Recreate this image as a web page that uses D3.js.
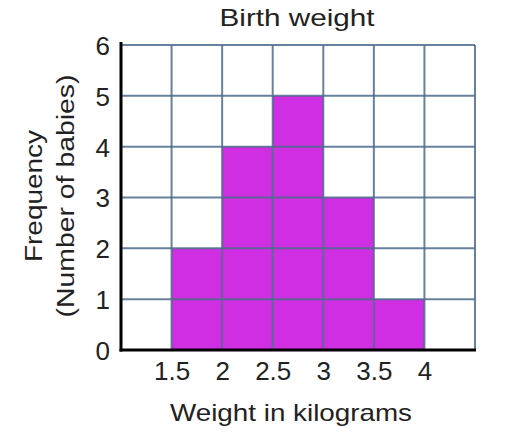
<!DOCTYPE html>
<html>
<head>
<meta charset="utf-8">
<script src="https://cdn.jsdelivr.net/npm/d3@7"></script>
<style>
  body { margin: 0; background: #fff; }
  text { font-family: "Liberation Sans", Arial, sans-serif; fill: #222; }
</style>
</head>
<body>
<svg id="drawing_region"></svg>
<script>
// histogram bins (lower edge, upper edge) and counts
const binStart = [1.5, 2, 2.5, 3, 3.5];
const binEnd = [2, 2.5, 3, 3.5, 4];
const counts = [2, 4, 5, 3, 1];

const xTicks = [1.5, 2, 2.5, 3, 3.5, 4];
const yTicks = [0, 1, 2, 3, 4, 5, 6];
const xGrid = [1, 1.5, 2, 2.5, 3, 3.5, 4, 4.5];

const title = "Birth weight";
const xTitle = "Weight in kilograms";
const yTitle1 = "Frequency";
const yTitle2 = "(Number of babies)";

const width = 524, height = 442;
const margin = {top: 45, right: 49, bottom: 92, left: 121};

const svg = d3.select('#drawing_region')
    .attr('width', width)
    .attr('height', height);

const xscale = d3.scaleLinear()
    .domain([1, 4.5])
    .range([margin.left, width - margin.right]);

const yscale = d3.scaleLinear()
    .domain([0, 6])
    .range([height - margin.bottom, margin.top]);

// bars
svg.selectAll('rect.bar')
    .data(counts)
    .enter()
    .append('rect')
    .attr('class', 'bar')
    .attr('x', (d, i) => xscale(binStart[i]))
    .attr('width', (d, i) => xscale(binEnd[i]) - xscale(binStart[i]))
    .attr('y', d => yscale(d))
    .attr('height', d => yscale(0) - yscale(d))
    .attr('fill', '#d02ee2');

// grid
svg.selectAll('line.vgrid')
    .data(xGrid)
    .enter()
    .append('line')
    .attr('x1', d => xscale(d))
    .attr('x2', d => xscale(d))
    .attr('y1', yscale(6))
    .attr('y2', yscale(0))
    .attr('stroke', '#4c6c8c')
    .attr('stroke-opacity', 0.85)
    .attr('stroke-width', 2);

svg.selectAll('line.hgrid')
    .data(yTicks)
    .enter()
    .append('line')
    .attr('x1', xscale(1))
    .attr('x2', xscale(4.5))
    .attr('y1', d => yscale(d))
    .attr('y2', d => yscale(d))
    .attr('stroke', '#4c6c8c')
    .attr('stroke-opacity', 0.85)
    .attr('stroke-width', 2);

// axes
const xaxis = d3.axisBottom(xscale)
    .tickValues(xTicks)
    .tickSize(0)
    .tickPadding(12)
    .tickFormat(d3.format('~g'));

const yaxis = d3.axisLeft(yscale)
    .tickValues(yTicks)
    .tickSize(0)
    .tickPadding(11)
    .tickFormat(d3.format('d'));

const xaxis_group = svg.append('g')
    .attr('transform', `translate(0, ${yscale(0)})`)
    .call(xaxis);

const yaxis_group = svg.append('g')
    .attr('transform', `translate(${xscale(1)}, 0)`)
    .call(yaxis);

[xaxis_group, yaxis_group].forEach(g => {
    g.select('.domain').remove();
    g.selectAll('text')
        .attr('font-family', '"Liberation Sans", Arial, sans-serif')
        .attr('font-size', '26px')
        .attr('fill', '#222');
});
yaxis_group.selectAll('text').attr('dy', '0.36em');

svg.append('line')
    .attr('x1', xscale(1))
    .attr('x2', xscale(1))
    .attr('y1', yscale(6) - 3)
    .attr('y2', yscale(0) + 1.5)
    .attr('stroke', 'black')
    .attr('stroke-width', 3);

svg.append('line')
    .attr('x1', xscale(1) - 1.5)
    .attr('x2', xscale(4.5) + 1)
    .attr('y1', yscale(0))
    .attr('y2', yscale(0))
    .attr('stroke', 'black')
    .attr('stroke-width', 3);

// titles
svg.append('text')
    .attr('x', 297)
    .attr('y', 26)
    .attr('text-anchor', 'middle')
    .attr('font-size', '24px')
    .attr('textLength', 155)
    .attr('lengthAdjust', 'spacingAndGlyphs')
    .text(title);

svg.append('text')
    .attr('x', 291)
    .attr('y', 421)
    .attr('text-anchor', 'middle')
    .attr('font-size', '24px')
    .attr('textLength', 242)
    .attr('lengthAdjust', 'spacingAndGlyphs')
    .text(xTitle);

svg.append('text')
    .attr('transform', 'translate(42, 196) rotate(-90)')
    .attr('text-anchor', 'middle')
    .attr('font-size', '23px')
    .attr('textLength', 132)
    .attr('lengthAdjust', 'spacingAndGlyphs')
    .text(yTitle1);

svg.append('text')
    .attr('transform', 'translate(74, 196) rotate(-90)')
    .attr('text-anchor', 'middle')
    .attr('font-size', '23px')
    .attr('textLength', 243)
    .attr('lengthAdjust', 'spacingAndGlyphs')
    .text(yTitle2);
</script>
</body>
</html>
